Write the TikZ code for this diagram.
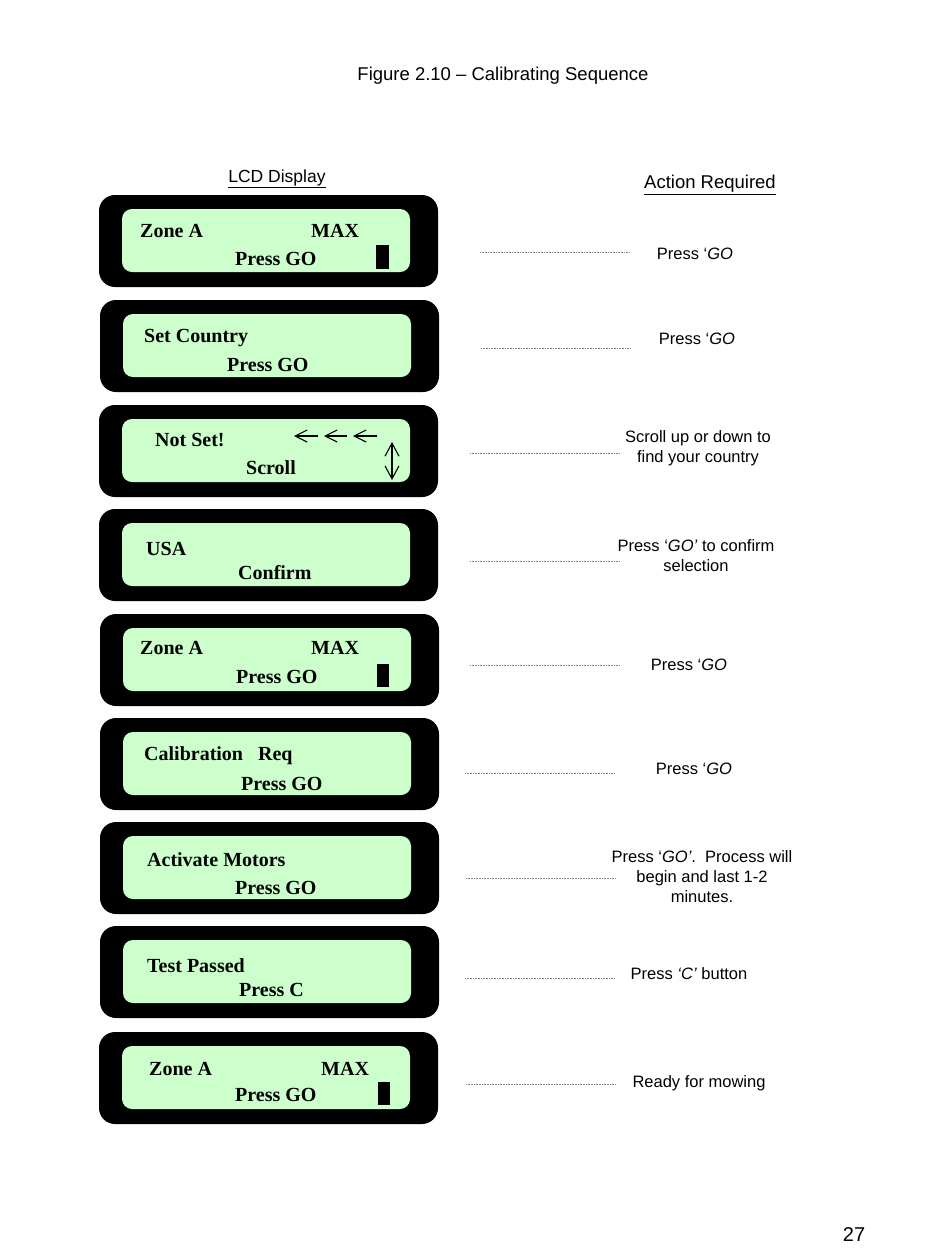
\documentclass[tikz,border=0pt]{standalone}
\usepackage{fontspec}
\setmainfont{Liberation Sans}
\newfontfamily\lcdfont{Liberation Serif}
\usetikzlibrary{arrows.meta}
\definecolor{lcdgreen}{RGB}{204,255,204}
\begin{document}
\begin{tikzpicture}[x=1pt,y=-1pt,
  frame/.style={fill=black, draw=none, rounded corners=16pt, minimum width=339pt, minimum height=92pt, inner sep=0pt},
  screen/.style={fill=lcdgreen, draw=none, rounded corners=10pt, minimum width=288pt, minimum height=63pt, inner sep=0pt},
  lcdtxt/.style={font=\lcdfont\bfseries\fontsize{20}{24}\selectfont, anchor=base west, inner sep=0pt},
  acttxt/.style={font=\fontsize{16.5}{20}\selectfont, align=center, inner sep=0pt},
  lead/.style={line width=0.6pt, gray, dash pattern=on 0.7pt off 0.9pt},
  cursor/.style={fill=black, draw=none, inner sep=0pt},
  lcdarrow/.style={line width=1.1pt, -{Straight Barb[length=12pt,width=12pt,line width=1.1pt]}},
  lcdarrows/.style={line width=1.1pt, {Straight Barb[length=13pt,width=14pt,line width=1.1pt]}-{Straight Barb[length=13pt,width=14pt,line width=1.1pt]}}]
\useasboundingbox (0,0) rectangle (950,1254);
\fill[white] (0,0) rectangle (950,1254);

% titles
\node[font=\fontsize{18.5}{22}\selectfont, inner sep=0pt] (title) at (503,76) {Figure 2.10 -- Calibrating Sequence};
\node[font=\fontsize{17.5}{21}\selectfont, inner sep=0pt] (hlcd) at (277,179) {\underline{LCD Display}};
\node[font=\fontsize{18.5}{22}\selectfont, inner sep=0pt] (hact) at (710,185) {\underline{Action Required}};
\node[font=\fontsize{20}{24}\selectfont, inner sep=0pt] (page) at (854,1235) {27};

% LCD frames and screens
\foreach \i/\l/\t in {1/99/195,2/100/300,3/99/405,4/99/509,5/100/614,6/100/718,7/100/822,8/100/926,9/99/1032}{
  \node[frame] (frame\i) at (\l+169.5,\t+46) {};
  \node[screen] (screen\i) at (\l+167,\t+45.5) {};
}

% LCD 1
\node[lcdtxt] (z1) at (140,237) {Zone A};
\node[lcdtxt] (m1) at (311,237) {MAX};
\node[lcdtxt] (p1) at (235,265) {Press GO};
\node[cursor, minimum width=13pt, minimum height=24pt] (cur1) at (382.5,257) {};
% LCD 2
\node[lcdtxt] (z2) at (144,342) {Set Country};
\node[lcdtxt] (p2) at (227,371) {Press GO};
% LCD 3
\node[lcdtxt] (z3) at (155,446) {Not Set!};
\node[lcdtxt] (p3) at (246,474) {Scroll};
\draw[lcdarrow] (318,436) -- (294,436);
\draw[lcdarrow] (347,436) -- (324,436);
\draw[lcdarrow] (377,436) -- (353,436);
\draw[lcdarrows] (392,442) -- (392,480);
% LCD 4
\node[lcdtxt] (z4) at (146,555) {USA};
\node[lcdtxt] (p4) at (238,579) {Confirm};
% LCD 5
\node[lcdtxt] (z5) at (140,654) {Zone A};
\node[lcdtxt] (m5) at (311,654) {MAX};
\node[lcdtxt] (p5) at (236,683) {Press GO};
\node[cursor, minimum width=12pt, minimum height=23pt] (cur5) at (383,675.5) {};
% LCD 6
\node[lcdtxt] (z6) at (144,760) {Calibration\hspace{10pt} Req};
\node[lcdtxt] (p6) at (241,790) {Press GO};
% LCD 7
\node[lcdtxt] (z7) at (147,866) {Activate Motors};
\node[lcdtxt] (p7) at (235,894) {Press GO};
% LCD 8
\node[lcdtxt] (z8) at (147,972) {Test Passed};
\node[lcdtxt] (p8) at (239,996) {Press C};
% LCD 9
\node[lcdtxt] (z9) at (149,1075) {Zone A};
\node[lcdtxt] (m9) at (321,1075) {MAX};
\node[lcdtxt] (p9) at (235,1101) {Press GO};
\node[cursor, minimum width=12pt, minimum height=23pt] (cur9) at (384,1093.5) {};

% actions
\node[acttxt] (act1) at (695,254) {Press `\textit{GO}};
\node[acttxt] (act2) at (697,339) {Press `\textit{GO}};
\node[acttxt] (act3) at (698,448) {Scroll up or down to\\find your country};
\node[acttxt] (act4) at (696,556) {Press `\textit{GO'} to confirm\\selection};
\node[acttxt] (act5) at (689,665) {Press `\textit{GO}};
\node[acttxt] (act6) at (694,769) {Press `\textit{GO}};
\node[acttxt] (act7) at (702,877) {Press `\textit{GO'}.\ \ Process will\\begin and last 1-2\\minutes.};
\node[acttxt] (act8) at (689,974) {Press \textit{`C'} button};
\node[acttxt] (act9) at (699,1083) {Ready for mowing};

% dotted leaders
\foreach \i/\a/\b/\y in {1/480/630/252,2/481/631/348,3/470/620/453,4/470/620/561,5/470/620/665,6/465/614/773,7/466/616/878,8/465/614/978,9/466/616/1084}{
  \coordinate (lead\i a) at (\a,\y);
  \coordinate (lead\i b) at (\b,\y);
  \draw[lead] (lead\i a) -- (lead\i b);
}
\end{tikzpicture}
\end{document}
